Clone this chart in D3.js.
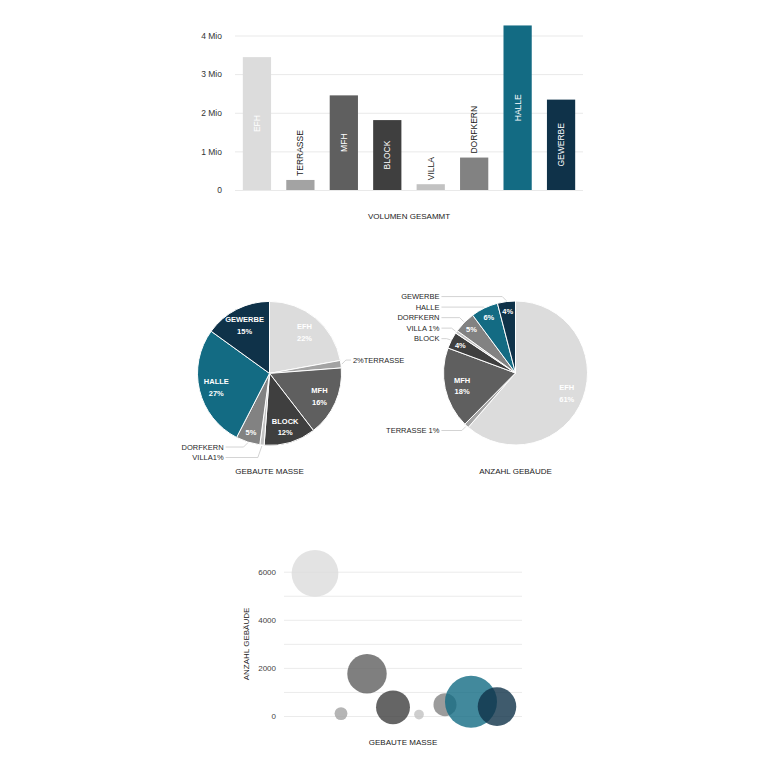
<!DOCTYPE html>
<html>
<head>
<meta charset="utf-8">
<script src="https://cdn.jsdelivr.net/npm/d3@7"></script>
<style>
  body { margin: 0; background: #fff; }
  svg { font-family: 'Liberation Sans', Arial, sans-serif; }
</style>
</head>
<body>
<div id="canvas"></div>
<script>
const categories = ['EFH', 'TERRASSE', 'MFH', 'BLOCK', 'VILLA', 'DORFKERN', 'HALLE', 'GEWERBE'];
const volume = [3440000, 260000, 2450000, 1810000, 150000, 840000, 4260000, 2340000];
const buildings = [5930, 100, 1760, 360, 60, 470, 590, 390];
const colors = ['#dcdcdc', '#a3a3a3', '#5f5f5f', '#3f3f3f', '#c2c2c2', '#828282', '#136b83', '#0f3249'];
const volumeTicks = [0, 1e6, 2e6, 3e6, 4e6];
const countGrid = [0, 1000, 2000, 3000, 4000, 5000, 6000];

const svg = d3
  .select('#canvas')
  .append('svg')
  .attr('width', 768)
  .attr('height', 768);

// ---- bar chart ----
const barX = d3.scaleBand().domain(categories).range([235, 583])
  .paddingInner(0.35).paddingOuter(0.18);
const barY = d3.scaleLinear().domain([0, 4e6]).range([190, 35.5]);

const barAxis = svg.append('g')
  .attr('transform', 'translate(235,0)')
  .call(d3.axisLeft(barY).tickValues(volumeTicks).tickSize(-348).tickPadding(13)
    .tickFormat(d => d === 0 ? '0' : d / 1e6 + ' Mio'));
barAxis.select('.domain').remove();
barAxis.selectAll('line').attr('stroke', '#e9e9e9');
barAxis.selectAll('text').attr('fill', '#333').attr('font-size', 8.5);

svg.selectAll('rect.bar')
  .data(categories)
  .join('rect')
  .attr('class', 'bar')
  .attr('x', d => barX(d))
  .attr('width', barX.bandwidth())
  .attr('y', (d, i) => barY(volume[i]))
  .attr('height', (d, i) => barY(0) - barY(volume[i]))
  .attr('fill', (d, i) => colors[i]);

categories.forEach((c, i) => {
  const cx = barX(c) + barX.bandwidth() / 2;
  const top = barY(volume[i]);
  const h = barY(0) - top;
  const t = svg.append('text')
    .attr('font-size', 8.5)
    .attr('dy', '0.35em')
    .text(c);
  const len = t.node().getComputedTextLength();
  if (h > len + 10) {
    t.attr('transform', `translate(${cx},${top + h / 2}) rotate(-90)`)
      .attr('text-anchor', 'middle').attr('fill', '#fff');
  } else {
    t.attr('transform', `translate(${cx},${top - 4}) rotate(-90)`)
      .attr('text-anchor', 'start').attr('fill', '#1a1a1a');
  }
});

svg.append('text')
  .attr('x', 409).attr('y', 219)
  .attr('text-anchor', 'middle').attr('font-size', 8).attr('fill', '#222')
  .text('VOLUMEN GESAMMT');

// ---- pies ----
function drawPie(values, cx, cy, title, sep, gapLeft) {
  const R = 72;
  const total = d3.sum(values);
  const rows = categories.map((c, i) => ({ c, v: values[i], color: colors[i] }));
  const arcs = d3.pie().sort(null).value(d => d.v)(rows);
  const arc = d3.arc().innerRadius(0).outerRadius(R);
  const g = svg.append('g').attr('transform', `translate(${cx},${cy})`);

  g.selectAll('path')
    .data(arcs)
    .join('path')
    .attr('d', arc)
    .attr('fill', d => d.data.color)
    .attr('stroke', '#fff')
    .attr('stroke-width', 1);

  const outside = [];
  arcs.forEach(d => {
    const pct = Math.round(d.data.v / total * 100);
    const a = (d.startAngle + d.endAngle) / 2;
    const mode = pct >= 10 ? 'both' : pct >= 3 ? 'pct' : 'out';
    if (mode !== 'out') {
      const r = mode === 'both' ? 0.76 * R : 0.86 * R;
      const lt = g.append('text')
        .attr('x', Math.sin(a) * r).attr('y', -Math.cos(a) * r)
        .attr('text-anchor', 'middle').attr('fill', '#fff')
        .attr('font-size', 7.5).attr('font-weight', 'bold');
      if (mode === 'both') {
        lt.append('tspan').attr('x', Math.sin(a) * r).attr('dy', '-0.3em').text(d.data.c);
        lt.append('tspan').attr('x', Math.sin(a) * r).attr('dy', '1.55em').text(pct + '%');
      } else {
        lt.attr('dy', '0.35em').text(pct + '%');
      }
    }
    if (mode !== 'out' && mode !== 'pct') return;
    const ex = Math.sin(a) * (R + 1);
    const ey = -Math.cos(a) * (R + 1);
    const left = Math.sin(a) < 0;
    let label;
    if (mode === 'pct') label = d.data.c;
    else label = left ? d.data.c + sep + pct + '%' : pct + '%' + sep + d.data.c;
    outside.push({ ex, ey, left, label, y: ey + (ey < 0 ? -4 : 4) });
  });

  [true, false].forEach(side => {
    const list = outside.filter(o => o.left === side).sort((p, q) => p.y - q.y);
    if (!list.length) return;
    for (let k = 1; k < list.length; k++) {
      if (list[k].y < list[k - 1].y + 10.5) list[k].y = list[k - 1].y + 10.5;
    }
    const tx = side ? d3.min(list, o => o.ex) - gapLeft : d3.max(list, o => o.ex) + 11;
    list.forEach(o => {
      const bend = side ? o.ex - 4 : o.ex + 4;
      g.append('polyline')
        .attr('points', [[side ? tx + 2 : tx - 2, o.y], [bend, o.y], [o.ex, o.ey]].join(' '))
        .attr('fill', 'none').attr('stroke', '#c8c8c8').attr('stroke-width', 0.8);
      g.append('text')
        .attr('x', tx).attr('y', o.y).attr('dy', '0.35em')
        .attr('text-anchor', side ? 'end' : 'start')
        .attr('font-size', 7.5).attr('fill', '#1f1f1f')
        .text(o.label);
    });
  });

  svg.append('text')
    .attr('x', cx).attr('y', cy + 101)
    .attr('text-anchor', 'middle').attr('font-size', 8).attr('fill', '#222')
    .text(title);
}

drawPie(volume, 269.5, 373.4, 'GEBAUTE MASSE', '', 24);
drawPie(buildings, 515.5, 373, 'ANZAHL GEBÄUDE', ' ', 11);

// ---- bubble chart ----
const bx = d3.scalePoint().domain(categories).range([289, 523]).padding(1);
const by = d3.scaleLinear().domain([0, 6000]).range([716, 571.7]);
const br = d3.scaleSqrt().domain([0, d3.max(volume)]).range([0, 26]);

const bubAxis = svg.append('g')
  .attr('transform', 'translate(284,0)')
  .call(d3.axisLeft(by).tickValues(countGrid).tickSize(-238).tickPadding(8)
    .tickFormat(d => d % 2000 === 0 ? d : ''));
bubAxis.select('.domain').remove();
bubAxis.selectAll('line').attr('stroke', '#ebebeb');
bubAxis.selectAll('text').attr('fill', '#444').attr('font-size', 8);

svg.selectAll('circle')
  .data(categories)
  .join('circle')
  .attr('cx', d => bx(d))
  .attr('cy', (d, i) => by(buildings[i]))
  .attr('r', (d, i) => br(volume[i]))
  .attr('fill', (d, i) => colors[i])
  .attr('fill-opacity', 0.8);

svg.append('text')
  .attr('transform', 'translate(249,644) rotate(-90)')
  .attr('text-anchor', 'middle').attr('font-size', 8).attr('fill', '#222')
  .text('ANZAHL GEBÄUDE');

svg.append('text')
  .attr('x', 403).attr('y', 745)
  .attr('text-anchor', 'middle').attr('font-size', 8).attr('fill', '#222')
  .text('GEBAUTE MASSE');
</script>
</body>
</html>
